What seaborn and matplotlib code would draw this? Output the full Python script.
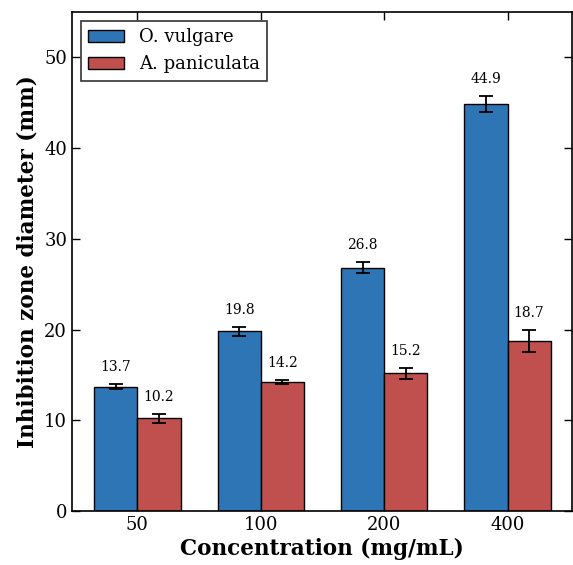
import numpy as np
import pandas as pd
import matplotlib
matplotlib.use("Agg")
import matplotlib.pyplot as plt
import seaborn as sns

concentrations = ["50", "100", "200", "400"]
series_names = ["O. vulgare", "A. paniculata"]
o_vulgare = [13.7, 19.8, 26.8, 44.9]
o_vulgare_err = [0.3, 0.5, 0.6, 0.9]
a_paniculata = [10.2, 14.2, 15.2, 18.7]
a_paniculata_err = [0.5, 0.2, 0.6, 1.2]
colors = ["#2e75b6", "#c0504d"]

sns.set_theme(style="white")
plt.rcParams["font.family"] = ["DejaVu Serif"]
plt.rcParams["text.color"] = "black"
plt.rcParams["axes.labelcolor"] = "black"
plt.rcParams["xtick.color"] = "black"
plt.rcParams["ytick.color"] = "black"

df = pd.DataFrame({
    "Concentration": concentrations * 2,
    "value": o_vulgare + a_paniculata,
    "err": o_vulgare_err + a_paniculata_err,
    "Species": [series_names[0]] * 4 + [series_names[1]] * 4,
})

fig = plt.figure(figsize=(5.73, 5.65), dpi=100)
ax = fig.add_axes([0.1257, 0.0956, 0.872, 0.883])

sns.barplot(data=df, x="Concentration", y="value", hue="Species",
            palette=colors, errorbar=None, width=0.7, edgecolor="black",
            linewidth=1.0, saturation=1, ax=ax)

bars = [p for p in ax.patches if p.get_height() > 0]
vals = o_vulgare + a_paniculata
errs = o_vulgare_err + a_paniculata_err
for p, v, e in zip(bars, vals, errs):
    cx = p.get_x() + p.get_width() / 2
    ax.errorbar(cx, v, yerr=e, color="black", capsize=5, elinewidth=1.3,
                capthick=1.3, fmt="none")
    ax.text(cx, v + e + 1.1, f"{v}", ha="center", va="bottom", fontsize=10,
            color="black")

ax.set_xlim(-0.53, 3.52)
ax.set_ylim(0, 55)
ax.set_yticks([0, 10, 20, 30, 40, 50])
ax.set_xlabel("Concentration (mg/mL)", fontsize=15.5, fontweight="bold",
              labelpad=3)
ax.set_ylabel("Inhibition zone diameter (mm)", fontsize=15.5, fontweight="bold")
ax.tick_params(axis="both", direction="in", length=6, width=1, labelsize=13,
               top=True, right=True, bottom=True, left=True, color="black")
for s in ax.spines.values():
    s.set_color("black")
    s.set_linewidth(1.2)

leg = ax.legend(loc="upper left", fontsize=13, frameon=True, fancybox=False,
                edgecolor="#333333", framealpha=1, borderaxespad=0.5)
leg.get_frame().set_linewidth(1.2)
for t in leg.get_texts():
    t.set_color("black")

fig.savefig("out.png", dpi=100)
